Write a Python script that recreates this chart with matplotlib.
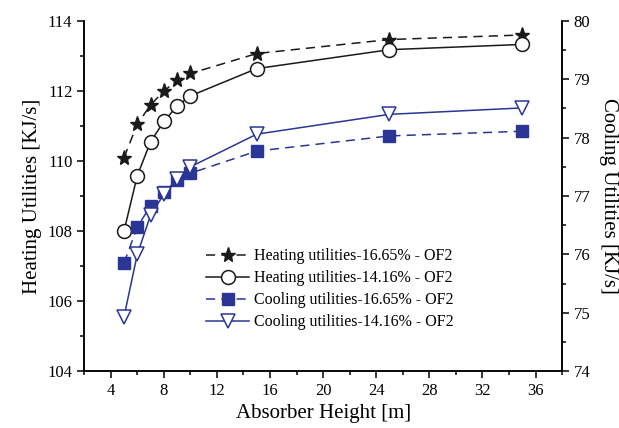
import numpy as np
import matplotlib.pyplot as plt
from matplotlib.ticker import MultipleLocator

plt.rcParams["font.family"] = ["Liberation Serif", "DejaVu Serif"]

# 数据
height = [5, 6, 7, 8, 9, 10, 15, 25, 35]
heat_1665 = [110.1, 111.05, 111.6, 112.0, 112.3, 112.5, 113.07, 113.47, 113.6]
heat_1416 = [108.0, 109.58, 110.55, 111.13, 111.57, 111.86, 112.64, 113.18, 113.33]
cool_1665 = [75.85, 76.47, 76.83, 77.07, 77.27, 77.39, 77.77, 78.03, 78.11]
cool_1416 = [74.93, 76.0, 76.67, 77.03, 77.29, 77.5, 78.06, 78.4, 78.51]

blue = "#2B3595"

fig = plt.figure(figsize=(6.19, 4.28), dpi=100)
ax = fig.add_axes([0.136, 0.133, 0.772, 0.818])
ax2 = ax.twinx()

l1, = ax.plot(height, heat_1665, color="#1a1a1a", ls=(0, (6, 4)), lw=1.1,
              marker="*", ms=11, label="Heating utilities-16.65% - OF2")
l2, = ax.plot(height, heat_1416, color="#1a1a1a", ls="-", lw=1.1,
              marker="o", ms=10, mfc="white", mew=1.1, label="Heating utilities-14.16% - OF2")
l3, = ax2.plot(height, cool_1665, color=blue, ls=(0, (6, 4)), lw=1.1,
               marker="s", ms=8, label="Cooling utilities-16.65% - OF2")
l4, = ax2.plot(height, cool_1416, color=blue, ls="-", lw=1.1,
               marker="v", ms=10, mfc="white", mew=1.1, label="Cooling utilities-14.16% - OF2")

ax.set_xlim(2, 38)
ax.set_ylim(104, 114)
ax2.set_ylim(74, 80)
ax.xaxis.set_major_locator(MultipleLocator(4))
ax.xaxis.set_minor_locator(MultipleLocator(2))
ax.yaxis.set_major_locator(MultipleLocator(2))
ax.yaxis.set_minor_locator(MultipleLocator(1))
ax2.yaxis.set_major_locator(MultipleLocator(1))
ax2.yaxis.set_minor_locator(MultipleLocator(0.5))

for a in (ax, ax2):
    a.spines["top"].set_visible(False)
    for s in a.spines.values():
        s.set_linewidth(1.1)
    a.tick_params(which="major", length=5, width=1.1, labelsize=12)
    a.tick_params(which="minor", length=3, width=1.1)

ax.set_xlabel("Absorber Height [m]", fontsize=15)
ax.set_ylabel("Heating Utilities [KJ/s]", fontsize=15)
ax2.set_ylabel("Cooling Utilities [KJ/s]", fontsize=15, rotation=270, labelpad=20)

ax2.legend(handles=[l1, l2, l3, l4], loc="lower left", bbox_to_anchor=(0.225, 0.075),
           frameon=False, fontsize=11.5, handlelength=2.7, labelspacing=0.38,
           handletextpad=0.3)

fig.savefig("out.png", dpi=100)
